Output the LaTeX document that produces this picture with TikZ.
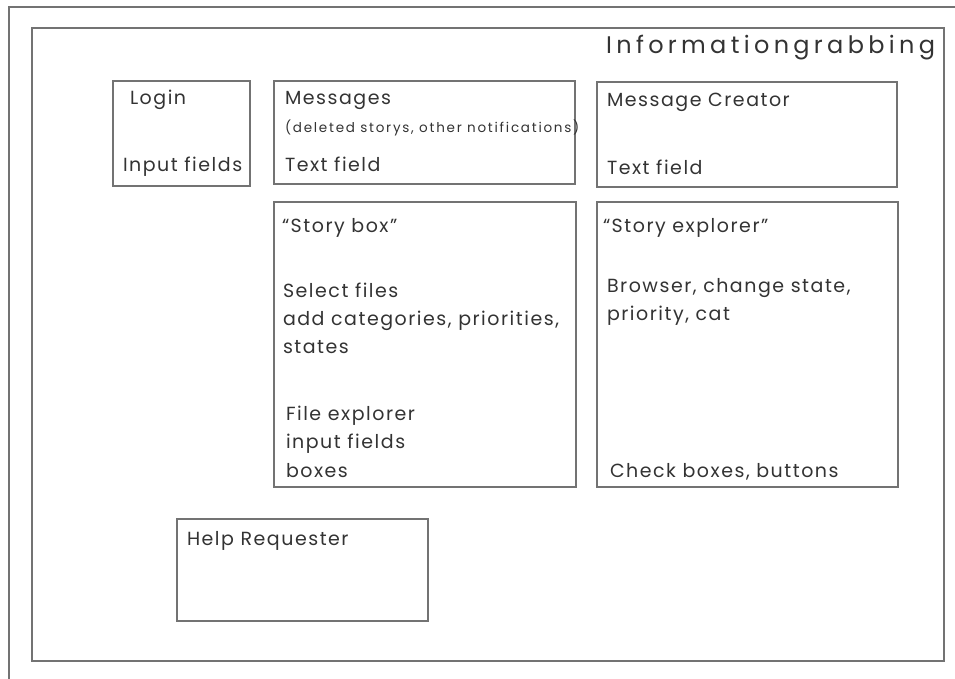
\documentclass[tikz,border=0pt]{standalone}
\usepackage{fontspec}
\setmainfont{Poppins}
\newfontfamily\bodyfont{Poppins}[LetterSpace=8]
\newfontfamily\smallfont{Poppins}[LetterSpace=13]
\newfontfamily\titlefont{Poppins}[LetterSpace=18]
\begin{document}
\begin{tikzpicture}[x=1pt,y=-1pt,
  frame/.style={draw=black!55, line width=1.6pt},
  box/.style={draw=black!55, line width=1.6pt, anchor=north west, inner sep=0pt, outer sep=0pt},
  txt/.style={anchor=base west, inner sep=0pt, outer sep=0pt, text=black!80, font=\bodyfont\fontsize{19}{22}\selectfont},
  small/.style={anchor=base west, inner sep=0pt, outer sep=0pt, text=black!80, font=\smallfont\fontsize{13.5}{16}\selectfont},
  title/.style={anchor=base east, inner sep=0pt, outer sep=0pt, text=black!80, font=\titlefont\fontsize{24}{28}\selectfont}]
\useasboundingbox (0,0) rectangle (955,679);
% outer frame lines
\coordinate (otl) at (9,7);
\coordinate (otr) at (955,7);
\coordinate (obl) at (9,679);
\draw[frame] (otr) -- (otl) -- (obl);
% inner frame
\node[box, minimum width=912pt, minimum height=633pt] (inner) at (32,28) {};
\node[title] (ttl) at (935,54) {Informationgrabbing};
% Login
\node[box, minimum width=137pt, minimum height=105pt] (login) at (113,81) {};
\node[txt] (logint) at (130,105) {Login};
\node[txt] (loginf) at (123,172) {Input fields};
% Messages
\node[box, minimum width=301pt, minimum height=103pt] (msg) at (274,81) {};
\node[txt] (msgt) at (285,105) {Messages};
\node[small] (msgs) at (285,133) {(deleted storys, other notifications)};
\node[txt] (msgf) at (285,172) {Text field};
% Message Creator
\node[box, minimum width=300pt, minimum height=105pt] (mc) at (597,82) {};
\node[txt] (mct) at (607,107) {Message Creator};
\node[txt] (mcf) at (607,175) {Text field};
% Story box
\node[box, minimum width=302pt, minimum height=285pt] (sb) at (274,202) {};
\node[txt] (sb1) at (282,232) {“Story box”};
\node[txt] (sb2) at (283,297) {Select files};
\node[txt] (sb3) at (283,325) {add categories, priorities,};
\node[txt] (sb4) at (283,353) {states};
\node[txt] (sb5) at (286,420) {File explorer};
\node[txt] (sb6) at (286,448) {input fields};
\node[txt] (sb7) at (286,477) {boxes};
% Story explorer
\node[box, minimum width=301pt, minimum height=285pt] (se) at (597,202) {};
\node[txt] (se1) at (603,232) {“Story explorer”};
\node[txt] (se2) at (607,292) {Browser, change state,};
\node[txt] (se3) at (607,320) {priority, cat};
\node[txt] (se4) at (610,477) {Check boxes, buttons};
% Help Requester
\node[box, minimum width=251pt, minimum height=102pt] (help) at (177,519) {};
\node[txt] (helpt) at (187,545) {Help Requester};
\end{tikzpicture}
\end{document}
